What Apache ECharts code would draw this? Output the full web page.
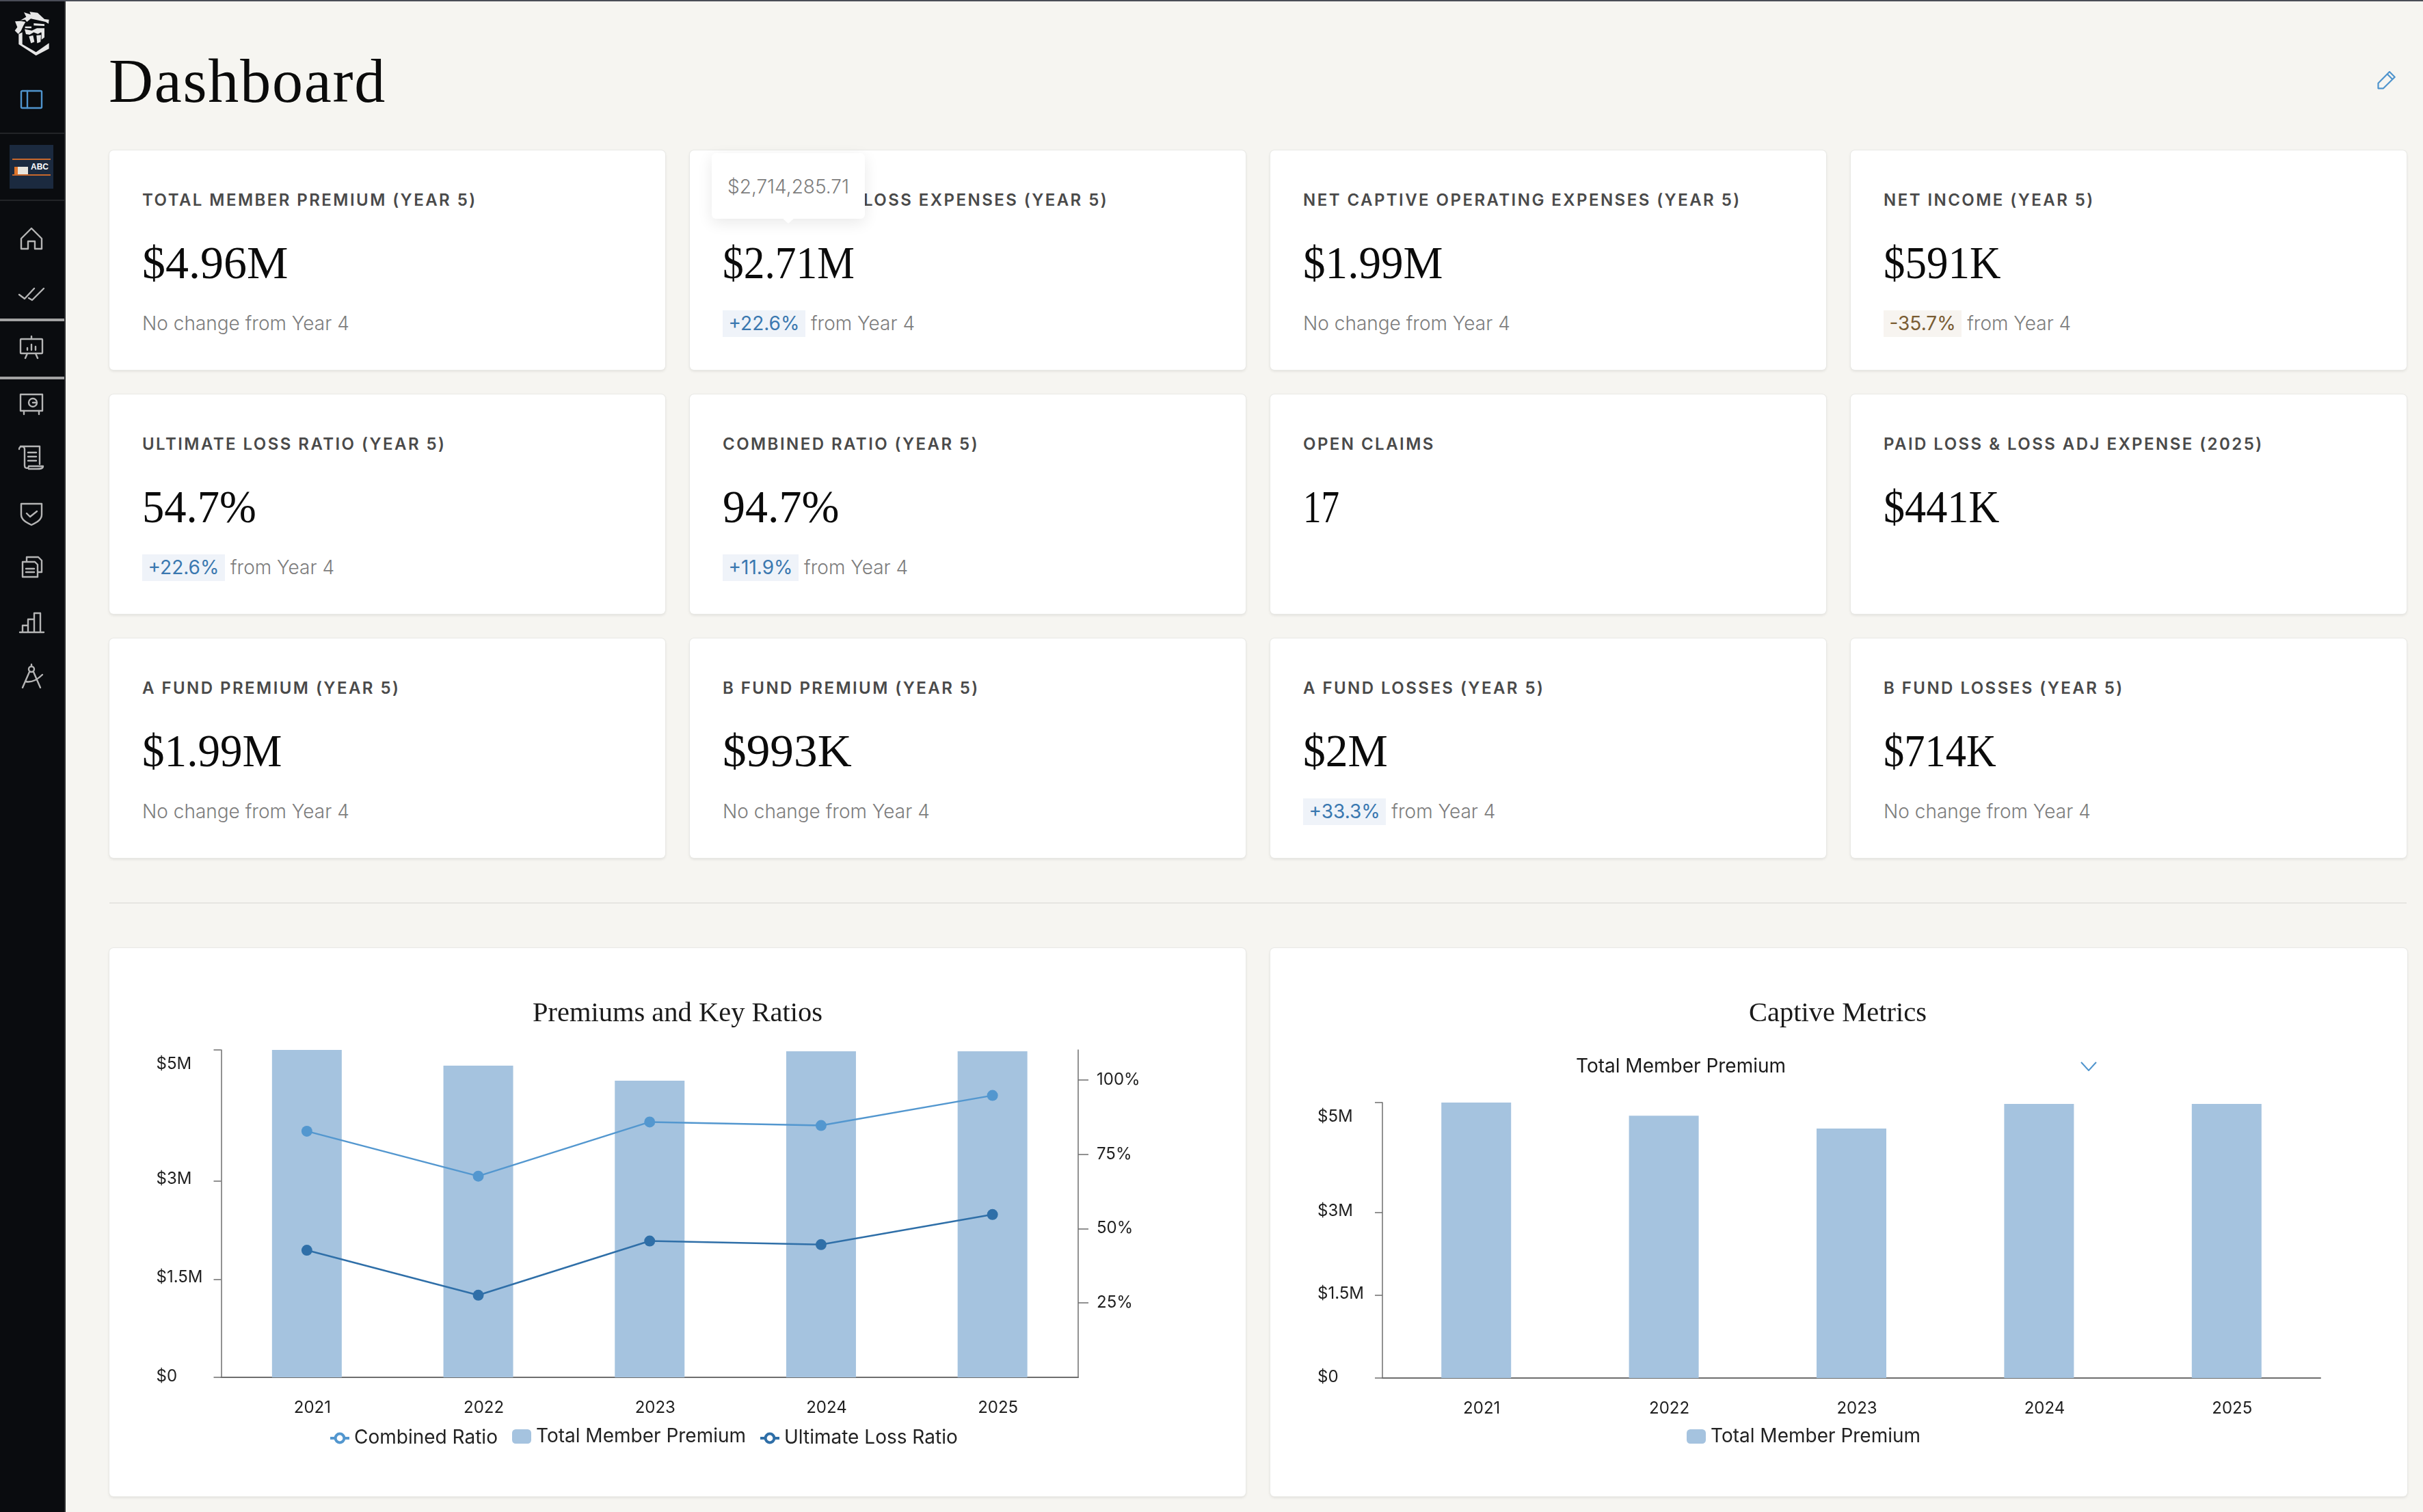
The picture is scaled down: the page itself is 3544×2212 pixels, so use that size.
<!DOCTYPE html>
<html><head><meta charset="utf-8">
<script src="https://cdn.jsdelivr.net/npm/echarts@6/dist/echarts.min.js"></script>
<style>
html,body{margin:0;padding:0;width:3544px;height:2212px;overflow:hidden;background:#f6f5f1;font-family:Inter,sans-serif;}
#topbar{position:absolute;left:0;top:0;width:3544px;height:2px;background:#4a4d57;z-index:5}
#side{position:absolute;left:0;top:0;width:94px;height:2212px;background:#0a0c0f;border-right:2px solid #2c2d2f}
.sep{position:absolute;left:0;width:94px;height:2px;background:#222427}
.sepg{position:absolute;left:0;width:94px;height:4px;background:#a3a3a3}
.ico{position:absolute;left:26px;width:40px;height:40px;fill:none;stroke:#b5b5b5;stroke-width:2.4;stroke-linejoin:round;stroke-linecap:round}
#thumb{position:absolute;left:14px;top:212px;width:64px;height:64px;background:#1b2a3f}
#thumb i{position:absolute;left:4px;width:56px;height:2px;background:#c8682c}
#thumb b{position:absolute;left:31px;top:25px;font:700 12px "Liberation Sans",sans-serif;color:#fff}
#truck{position:absolute;left:7px;top:32px;width:20px;height:11px;background:#e8e4dc;border-left:5px solid #e0762c;box-sizing:border-box}
h1{position:absolute;left:159px;top:64px;margin:0;font:400 90px/110px "Liberation Serif",serif;letter-spacing:1.8px;color:#0b0b0b}
.card{position:absolute;box-sizing:border-box;background:#fff;border-radius:6px;box-shadow:0 0 0 1px #e9e9e6,0 2px 4px rgba(0,0,0,.10)}
.kpi{width:813px;height:321px}
.lab{position:absolute;left:48px;top:57px;font-weight:600;font-size:24px;line-height:32px;letter-spacing:2.45px;color:#4a4a4a;white-space:nowrap}
.val{position:absolute;left:48px;top:124px;font:400 68px/80px "Liberation Serif",serif;color:#0b0b0b;white-space:nowrap;transform-origin:0 50%}
.sub{position:absolute;left:48px;top:233px;height:40px;line-height:40px;font-size:28px;font-weight:300;color:#7d7d7d;white-space:nowrap}
.bdg{display:inline-block;height:39px;line-height:39px;padding:0 8.5px;margin-right:8px;font-weight:400}
.up{color:#3a78b0;background:#eff3f9}.dn{color:#7a5c33;background:#f7f4f0}
#hr{position:absolute;left:160px;top:1320px;width:3360px;height:2px;background:#e6e5e1}
#tip{position:absolute;left:1041px;top:224px;width:224px;height:96px;background:#fff;border-radius:6px;box-shadow:0 6px 22px rgba(0,0,0,.09);text-align:center;line-height:98px;font-size:28px;font-weight:300;color:#7d7d7d;z-index:3}
#tip:after{content:"";position:absolute;left:102px;top:94px;width:0;height:0;border-left:10px solid transparent;border-right:10px solid transparent;border-top:9px solid #fff}
.chart{position:absolute;top:1387px;height:802px}
#c1{left:160px;width:1662px}#c2{left:1858px;width:1663px}
#dd{position:absolute;left:2305px;top:1541px;font-size:28px;line-height:36px;color:#1a1a1a;white-space:nowrap;z-index:3}
</style></head><body>
<div id="topbar"></div>
<div id="side">
<svg style="position:absolute;left:10px;top:8px" width="76" height="80" viewBox="0 0 228 240"><g fill="#e6e6e6">
<path d="M75 30 105 40 100 28 135 32 165 60 185 62 183 80 170 72 105 58 88 72 80 62 60 65 85 50z"/>
<path d="M36 70 60 68 82 72 72 90 62 112 50 125 35 110 46 95z"/>
<path d="M80 92H108V100H80zM118 78 165 82V90L118 88z"/>
<path d="M78 104 110 110 132 100 165 100 165 128 150 118 136 125 118 118 100 128 84 126z"/>
<path d="M97 136 115 131 121 160 106 166zM130 131 150 130 148 160 133 166zM152 118 165 112V140L152 150z"/>
<path d="M52 125 68 118V170L128 205 185 165V190L128 220 52 170z"/></g></svg>
<svg class="ico" style="left:28px;top:131px;width:36px;height:30px;stroke:#4f94cd" viewBox="0 0 36 30"><rect x="3" y="2" width="30" height="25" rx="1.5"/><path d="M12 2V27"/></svg>
<div class="sep" style="top:194px"></div>
<div id="thumb"><i style="top:20px"></i><i style="top:43px"></i><b>ABC</b><div id="truck"></div></div>
<div class="sep" style="top:292px"></div>
<svg class="ico" style="top:329px" viewBox="0 0 40 40"><path d="M5 20 20 5 35 20V35H25V24H15V35H5z"/></svg>
<svg class="ico" style="top:409px" viewBox="0 0 40 40"><path d="M2 22 10 28 24 13M16 27 21 30 38 13"/></svg>
<div class="sepg" style="top:466px"></div>
<svg class="ico" style="top:488px" viewBox="0 0 40 40"><rect x="4" y="8" width="32" height="21" rx="1"/><path d="M20 4V8M11 36 14 29M29 36 26 29M14 24V21M20 24V16M26 24V19"/></svg>
<div class="sepg" style="top:551px"></div>
<svg class="ico" style="top:571px" viewBox="0 0 40 40"><rect x="4" y="6" width="32" height="24"/><circle cx="22" cy="18" r="6"/><path d="M22 18H27M9 30V35M31 30V35"/></svg>
<svg class="ico" style="top:649px" viewBox="0 0 40 40"><path d="M2 8C2 3 10 3 10 8V32C10 37 16 37 16 33H37C37 37 32 37 28 37H16M4 4H32V30M15 13H27M15 19H27M15 25H27"/></svg>
<svg class="ico" style="top:731px" viewBox="0 0 40 40"><path d="M5 6H35V22C35 30 26 34 20 37 14 34 5 30 5 22zM13 20 18 25 28 17"/></svg>
<svg class="ico" style="top:809px" viewBox="0 0 40 40"><path d="M7 13H25L29 17V35H7zM13 13V6H30L35 11V28H29M12 23H24M12 28H24"/></svg>
<svg class="ico" style="top:889px" viewBox="0 0 40 40"><path d="M3 36H38M7 36V26H15V36M15 36V17H24V36M24 36V8H33V36"/></svg>
<svg class="ico" style="top:970px" viewBox="0 0 40 40"><circle cx="20" cy="9" r="4"/><path d="M20 2V5M17 13 7 36M23 13 33 36M11 27C20 29 29 24 36 17"/></svg>
</div>
<h1>Dashboard</h1>
<svg style="position:absolute;left:3477px;top:104px;fill:none;stroke:#4f94cd;stroke-width:2.2;stroke-linejoin:round" width="28" height="28" viewBox="0 0 28 28"><path d="M1.5 17.7 18 1 25.7 8.7 9 25.3H1.5zM14.7 4.3 22.3 12"/></svg>
<div id="kpis"></div>
<div id="hr"></div>
<div id="tip">$2,714,285.71</div>
<div class="card" style="left:160px;top:1387px;width:1662px;height:802px"></div>
<div class="card" style="left:1858px;top:1387px;width:1663px;height:802px"></div>
<div class="chart" id="c1"></div>
<div class="chart" id="c2"></div>
<div id="dd">Total Member Premium</div>
<svg style="position:absolute;left:3043px;top:1553px;fill:none;stroke:#4f94cd;stroke-width:2" width="24" height="14" viewBox="0 0 24 14"><path d="M1 1 12 13 23 1"/></svg>
<script>
// ---- KPI cards
var kpiLabels=["TOTAL MEMBER PREMIUM (YEAR 5)","TOTAL LOSS & LOSS EXPENSES (YEAR 5)","NET CAPTIVE OPERATING EXPENSES (YEAR 5)","NET INCOME (YEAR 5)","ULTIMATE LOSS RATIO (YEAR 5)","COMBINED RATIO (YEAR 5)","OPEN CLAIMS","PAID LOSS & LOSS ADJ EXPENSE (2025)","A FUND PREMIUM (YEAR 5)","B FUND PREMIUM (YEAR 5)","A FUND LOSSES (YEAR 5)","B FUND LOSSES (YEAR 5)"];
var kpiValues=["$4.96M","$2.71M","$1.99M","$591K","54.7%","94.7%","17","$441K","$1.99M","$993K","$2M","$714K"];
var kpiBadges=["","+22.6%","","-35.7%","+22.6%","+11.9%",null,null,"","","+33.3%",""];
var kpiValueFit=[1,.904,.958,.927,.95,.97,.78,.915,.958,1.02,.965,.89];
// ---- chart data
var years=["2021","2022","2023","2024","2025"];
var premium=[5000000,4760000,4530000,4980000,4980000];
var combinedRatio=[82.7,67.6,85.8,84.6,94.7];
var ultimateLossRatio=[42.7,27.6,45.8,44.6,54.7];
var captiveMetric=[5000000,4760000,4530000,4975000,4975000];
var moneyTicks=[0,1500000,3000000,5000000];
var moneyTickLabels=["$0","$1.5M","$3M","$5M"];
var ratioTicks=[25,50,75,100];
var ratioTickLabels=["25%","50%","75%","100%"];

var host=document.getElementById('kpis');
kpiLabels.forEach(function(l,i){
  var d=document.createElement('div');d.className='card kpi';
  d.style.left=(160+849*(i%4))+'px';d.style.top=(220+357*Math.floor(i/4))+'px';
  var b=kpiBadges[i],s='';
  if(b===""){s='<div class="sub">No change from Year 4</div>';}
  else if(b){s='<div class="sub"><span class="bdg '+(b[0]==='-'?'dn':'up')+'">'+b+'</span>from Year 4</div>';}
  d.innerHTML='<div class="lab">'+l.replace('&','&amp;')+'</div><div class="val" style="transform:scaleX('+kpiValueFit[i]+')">'+kpiValues[i]+'</div>'+s;
  host.appendChild(d);
});

var BAR='#a5c3df',C1='#5397cf',C2='#2f6fa8',AX='#6e6e6e',TXT='#1f1f1f',FONT='Inter';
function moneyAxis(){return {type:'value',min:0,max:5000000,
  axisLine:{show:true,lineStyle:{color:AX,width:1.5}},
  axisTick:{show:true,length:11,customValues:moneyTicks,lineStyle:{color:AX,width:1.5}},
  splitLine:{show:false},
  axisLabel:{customValues:moneyTicks,margin:95,align:'left',color:TXT,fontFamily:FONT,fontSize:24,
    formatter:function(v){var t=moneyTickLabels[moneyTicks.indexOf(v)];return v===5000000?'{t|'+t+'}':v===0?'{z|'+t+'}':'{n|'+t+'}';},
    rich:{t:{padding:[42,0,0,0],color:TXT,fontFamily:FONT,fontSize:24},n:{padding:[0,0,5,0],color:TXT,fontFamily:FONT,fontSize:24},z:{padding:[0,0,2,0],color:TXT,fontFamily:FONT,fontSize:24}}}};}
function catAxis(){return {type:'category',data:years,
  axisLine:{lineStyle:{color:AX,width:2}},
  axisTick:{alignWithLabel:true,length:12,lineStyle:{color:AX,width:1.5}},
  axisLabel:{margin:33,padding:[0,0,0,16],color:TXT,fontFamily:FONT,fontSize:24}};}
function titleOf(t,x){return {text:t,left:x,top:76,textAlign:'center',textStyle:{fontFamily:'Liberation Serif',fontWeight:'normal',fontSize:40.5,color:'#1a1a1a'},padding:0};}
function legendOf(name,x,h,col){return {data:[col?{name:name,itemStyle:{color:'#fff',borderColor:col,borderWidth:4},lineStyle:{color:col,width:4}}:name],left:x,top:711-h/2,padding:0,itemWidth:28,itemHeight:h,
  textStyle:{fontFamily:FONT,fontSize:28,color:'#222',padding:[0,0,0,2]}};}
function lineSeries(name,data,col){return {name:name,type:'line',yAxisIndex:1,data:data,symbol:'circle',symbolSize:16,z:5,
  itemStyle:{color:col},lineStyle:{color:col,width:2.5}};}

var c1=echarts.init(document.getElementById('c1'));
c1.setOption({animation:false,
  title:titleOf('Premiums and Key Ratios',831),
  grid:{left:163.5,top:149,width:1253.5,height:479},
  legend:[legendOf('Combined Ratio',321,16,C1),legendOf('Total Member Premium',589,21),legendOf('Ultimate Loss Ratio',950,16,C2)],
  xAxis:catAxis(),
  yAxis:[moneyAxis(),{type:'value',min:0,max:110,position:'right',
    axisLine:{show:true,lineStyle:{color:AX,width:1.5}},
    axisTick:{show:true,length:15,customValues:ratioTicks,lineStyle:{color:AX,width:1.5}},
    splitLine:{show:false},
    axisLabel:{customValues:ratioTicks,margin:27,padding:[0,0,6,0],color:TXT,fontFamily:FONT,fontSize:24,
      formatter:function(v){return ratioTickLabels[ratioTicks.indexOf(v)];}}}],
  series:[lineSeries('Combined Ratio',combinedRatio,C1),
    {name:'Total Member Premium',type:'bar',yAxisIndex:0,data:premium,barWidth:102,itemStyle:{color:BAR}},
    lineSeries('Ultimate Loss Ratio',ultimateLossRatio,C2)]
});
var c2=echarts.init(document.getElementById('c2'));
c2.setOption({animation:false,
  title:titleOf('Captive Metrics',830),
  grid:{left:164,top:226,width:1372,height:403},
  legend:[legendOf('Total Member Premium',609,21)],
  xAxis:catAxis(),
  yAxis:moneyAxis(),
  series:[{name:'Total Member Premium',type:'bar',data:captiveMetric,barWidth:102,itemStyle:{color:BAR}}]
});
</script>
</body></html>
